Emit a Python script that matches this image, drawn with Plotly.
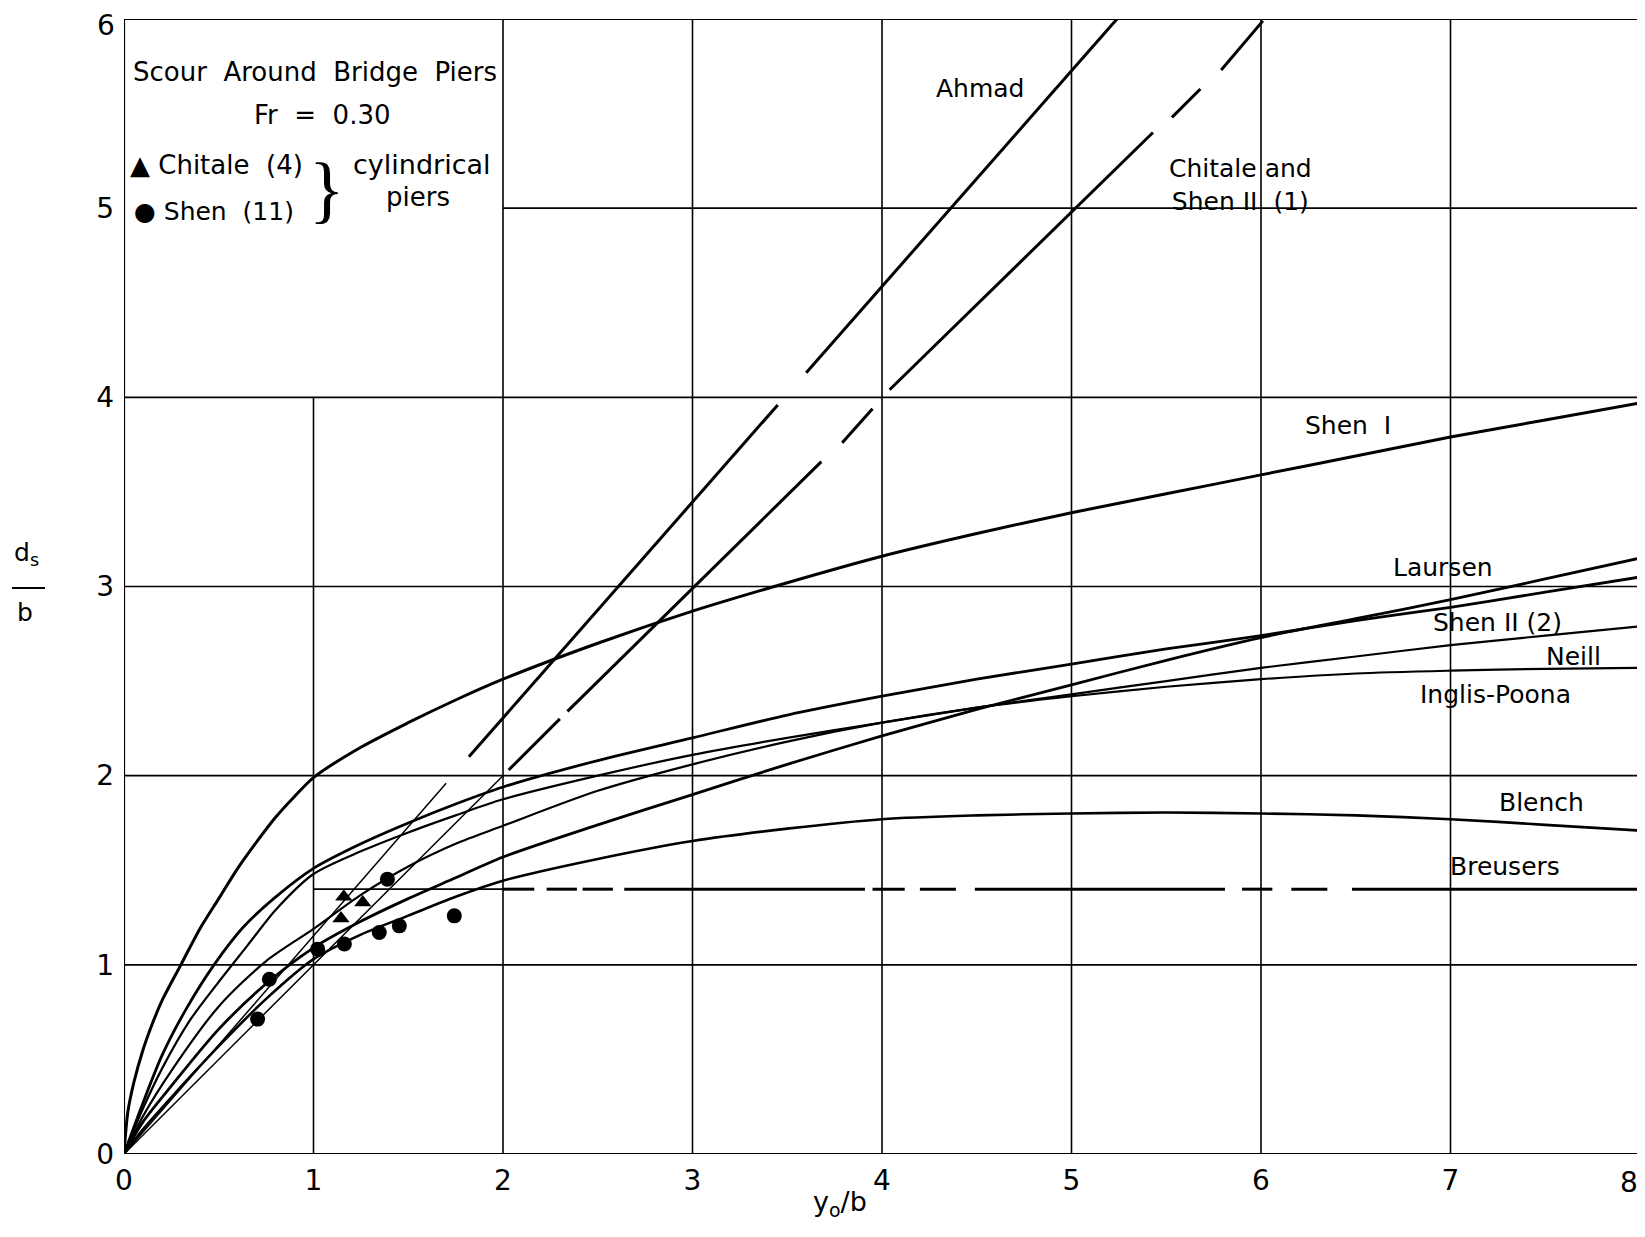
import plotly.graph_objects as go

# ---------------- data ----------------
x_ticks = [0, 1, 2, 3, 4, 5, 6, 7]
x_last_tick = 8
y_ticks = [0, 1, 2, 3, 4, 5]
y_last_tick = 6

shen1_x = [0, 0.02, 0.05, 0.1, 0.15, 0.2, 0.3, 0.4, 0.5, 0.6, 0.7, 0.8, 0.9, 1.0, 1.25, 1.5, 1.75, 2.0, 2.5, 3.0, 3.5, 4.0, 4.5, 5.0, 5.5, 6.0, 6.5, 7.0, 7.5, 8.0]
shen1_y = [0, 0.22, 0.37, 0.55, 0.69, 0.81, 1.0, 1.19, 1.35, 1.51, 1.65, 1.78, 1.89, 1.99, 2.15, 2.28, 2.40, 2.51, 2.70, 2.87, 3.02, 3.16, 3.28, 3.39, 3.49, 3.59, 3.69, 3.79, 3.88, 3.97]

shen2_x = [0, 0.1, 0.2, 0.33, 0.475, 0.63, 0.79, 1.0, 1.25, 1.5, 1.75, 2.0, 2.5, 3.0, 3.5, 4.0, 4.5, 5.0, 5.5, 6.0, 6.5, 7.0, 7.5, 8.0]
shen2_y = [0, 0.27, 0.52, 0.77, 1.0, 1.2, 1.35, 1.51, 1.64, 1.75, 1.85, 1.94, 2.08, 2.20, 2.32, 2.42, 2.51, 2.59, 2.67, 2.74, 2.82, 2.89, 2.97, 3.05]

neill_x = [0, 0.1, 0.2, 0.35, 0.5, 0.65, 0.8, 1.0, 1.25, 1.5, 1.75, 2.0, 2.5, 3.0, 3.5, 4.0, 4.5, 5.0, 5.5, 6.0, 6.5, 7.0, 7.5, 8.0]
neill_y = [0, 0.24, 0.45, 0.71, 0.91, 1.1, 1.29, 1.48, 1.60, 1.70, 1.79, 1.875, 2.0, 2.11, 2.20, 2.28, 2.36, 2.43, 2.50, 2.57, 2.63, 2.69, 2.74, 2.79]

inglis_x = [0, 0.1, 0.25, 0.5, 0.75, 1.0, 1.25, 1.5, 1.75, 2.0, 2.5, 3.0, 3.5, 4.0, 4.5, 5.0, 5.5, 6.0, 6.5, 7.0, 7.5, 8.0]
inglis_y = [0, 0.2, 0.44, 0.78, 1.02, 1.19, 1.37, 1.52, 1.64, 1.735, 1.92, 2.06, 2.18, 2.28, 2.36, 2.42, 2.47, 2.51, 2.54, 2.555, 2.565, 2.57]

laursen_x = [0, 0.1, 0.25, 0.5, 0.75, 1.0, 1.25, 1.5, 1.75, 2.0, 2.5, 3.0, 3.5, 4.0, 4.5, 5.0, 5.5, 6.0, 6.5, 7.0, 7.5, 8.0]
laursen_y = [0, 0.17, 0.36, 0.66, 0.9, 1.09, 1.23, 1.35, 1.46, 1.57, 1.74, 1.90, 2.06, 2.21, 2.35, 2.48, 2.61, 2.73, 2.83, 2.93, 3.04, 3.15]

blench_x = [0, 0.1, 0.25, 0.5, 0.75, 1.0, 1.25, 1.5, 1.75, 2.0, 2.5, 3.0, 3.5, 4.0, 4.5, 5.0, 5.5, 6.0, 6.5, 7.0, 7.5, 8.0]
blench_y = [0, 0.13, 0.3, 0.57, 0.82, 1.03, 1.16, 1.26, 1.36, 1.445, 1.56, 1.655, 1.72, 1.77, 1.79, 1.80, 1.805, 1.80, 1.79, 1.77, 1.74, 1.71]

# Breusers: constant 1.4, drawn in dashes (None = gap)
breusers_x = [2.0, 2.165, None, 2.23, 2.39, None, 2.42, 2.58, None, 2.64, 3.91, None, 3.95, 4.12, None,
              4.20, 4.39, None, 4.49, 5.81, None, 5.90, 6.06, None, 6.16, 6.35, None, 6.48, 8.0]
breusers_y = [1.4, 1.4, None, 1.4, 1.4, None, 1.4, 1.4, None, 1.4, 1.4, None, 1.4, 1.4, None,
              1.4, 1.4, None, 1.4, 1.4, None, 1.4, 1.4, None, 1.4, 1.4, None, 1.4, 1.4]

# Ahmad straight line (thin lower part + thick segments)
ahmad_ext_x = [0, 1.70]
ahmad_ext_y = [0, 1.96]
ahmad_x = [1.82, 3.45, None, 3.60, 5.24]
ahmad_y = [2.10, 3.96, None, 4.13, 6.0]

# Chitale and Shen II (1) straight line
chitale_ext_x = [0, 2.0]
chitale_ext_y = [0, 2.0]
chitale_x = [2.03, 2.30, None, 2.34, 3.68, None, 3.79, 3.95, None, 4.04, 5.43, None, 5.53, 5.68, None, 5.79, 6.01]
chitale_y = [2.03, 2.30, None, 2.34, 3.66, None, 3.76, 3.94, None, 4.04, 5.40, None, 5.48, 5.63, None, 5.73, 5.99]

# experimental points
chitale_pts_x = [1.16, 1.26, 1.145]
chitale_pts_y = [1.36, 1.33, 1.245]
shen_pts_x = [0.705, 0.767, 1.022, 1.163, 1.347, 1.453, 1.39, 1.743]
shen_pts_y = [0.713, 0.924, 1.083, 1.11, 1.171, 1.206, 1.453, 1.259]

# curve labels
label_text = ["Ahmad", "Chitale and<br>Shen II  (1)", "Shen  I", "Laursen", "Shen II (2)", "Neill",
              "Inglis-Poona", "Blench", "Breusers"]
label_x = [4.52, 5.89, 6.46, 6.96, 7.25, 7.65, 7.24, 7.48, 7.29]
label_y = [5.63, 5.12, 3.85, 3.10, 2.81, 2.63, 2.43, 1.86, 1.52]

# ---------------- figure ----------------
FONT = "DejaVu Sans"
# page body has an 8 px margin: plot area kept at page x 124..1640, y 19..1154
fig = go.Figure()

def curve(x, y, w):
    fig.add_trace(go.Scatter(x=x, y=y, mode="lines", showlegend=False,
                             line=dict(color="black", width=w, shape="spline", smoothing=0.8),
                             hoverinfo="skip"))

curve(shen1_x, shen1_y, 3.0)
curve(shen2_x, shen2_y, 2.8)
curve(neill_x, neill_y, 2.2)
curve(inglis_x, inglis_y, 2.2)
curve(laursen_x, laursen_y, 2.8)
curve(blench_x, blench_y, 2.6)

def straight(x, y, w):
    fig.add_trace(go.Scatter(x=x, y=y, mode="lines", showlegend=False,
                             line=dict(color="black", width=w), connectgaps=False, hoverinfo="skip"))

straight(breusers_x, breusers_y, 3.0)
straight(ahmad_ext_x, ahmad_ext_y, 1.5)
straight(ahmad_x, ahmad_y, 3.0)
straight(chitale_ext_x, chitale_ext_y, 1.5)
straight(chitale_x, chitale_y, 3.0)

fig.add_trace(go.Scatter(x=chitale_pts_x, y=chitale_pts_y, mode="markers", showlegend=False,
                         marker=dict(symbol="triangle-up", size=15, color="black")))
fig.add_trace(go.Scatter(x=shen_pts_x, y=shen_pts_y, mode="markers", showlegend=False,
                         marker=dict(symbol="circle", size=15, color="black")))

# irregular grid of the original sheet
grid = [(1, 0, 1, 4), (2, 0, 2, 6), (3, 0, 3, 6), (4, 0, 4, 6), (5, 0, 5, 6), (6, 0, 6, 6), (7, 0, 7, 6),
        (0, 1, 8, 1), (0, 2, 8, 2), (0, 3, 8, 3), (0, 4, 8, 4), (2, 5, 8, 5), (1, 1.4, 2.05, 1.4)]
frame = [(0, 0, 0, 6), (8, 0, 8, 6), (0, 0, 8, 0), (0, 6, 8, 6)]
shapes = []
for (x0, y0, x1, y1) in grid:
    shapes.append(dict(type="line", x0=x0, y0=y0, x1=x1, y1=y1, xref="x", yref="y",
                       line=dict(color="black", width=1.6), layer="below"))
for (x0, y0, x1, y1) in frame:
    shapes.append(dict(type="line", x0=x0, y0=y0, x1=x1, y1=y1, xref="x", yref="y",
                       line=dict(color="black", width=2.2), layer="below"))

def px(page_x):
    return (page_x - 124) / 1516

def py(page_y):
    return (1154 - page_y) / 1135

# fraction bar of the y title
shapes.append(dict(type="line", xref="paper", yref="paper", x0=px(12), x1=px(45),
                   y0=py(588), y1=py(588), line=dict(color="black", width=2)))

annotations = []
for t, x, y in zip(label_text, label_x, label_y):
    annotations.append(dict(x=x, y=y, text=t, showarrow=False, xref="x", yref="y",
                            xanchor="center", yanchor="middle",
                            font=dict(family=FONT, size=25, color="black")))

def ann(x, y, t, size=25, xanchor="center", family=FONT):
    annotations.append(dict(x=x, y=y, text=t, showarrow=False, xref="x", yref="y",
                            xanchor=xanchor, yanchor="middle",
                            font=dict(family=family, size=size, color="black")))

# legend box texts
ann(1.01, 5.72, "Scour  Around  Bridge  Piers", size=26)
ann(1.05, 5.49, "Fr  =  0.30", size=26)
ann(0.02, 5.23, "▲ Chitale  (4)", size=26, xanchor="left")
ann(0.04, 4.98, "● Shen  (11)", xanchor="left")
ann(1.07, 5.10, "}", size=74, family="Liberation Serif")
ann(1.57, 5.23, "cylindrical", size=27)
ann(1.55, 5.06, "piers", size=26)

def paper_text(x, y, t, size):
    annotations.append(dict(xref="paper", yref="paper", x=x, y=y, text=t, showarrow=False,
                            xanchor="center", yanchor="middle",
                            font=dict(family=FONT, size=size, color="black")))

# edge tick labels kept inside the figure
annotations.append(dict(xref="x", yref="paper", x=x_last_tick, y=py(1182), xanchor="right", yanchor="middle",
                        text=str(x_last_tick), showarrow=False,
                        font=dict(family=FONT, size=28, color="black")))
annotations.append(dict(xref="paper", yref="paper", x=px(106), y=py(25), xanchor="center", yanchor="middle",
                        text=str(y_last_tick), showarrow=False,
                        font=dict(family=FONT, size=28, color="black")))

# axis titles
paper_text(px(26), py(554), "d<sub>s</sub>", 25)
paper_text(px(25), py(612), "b", 25)
paper_text(px(840), py(1204), "y<sub>o</sub>/b", 27)

fig.update_layout(
    width=1637, height=1221,
    margin=dict(l=116, r=5, t=11, b=75),
    paper_bgcolor="white", plot_bgcolor="white",
    shapes=shapes, annotations=annotations,
    xaxis=dict(range=[0, 8], tickvals=x_ticks, ticktext=[str(v) for v in x_ticks],
               showgrid=False, zeroline=False, showline=False, ticks="",
               tickfont=dict(family=FONT, size=28, color="black"), ticklabelstandoff=7),
    yaxis=dict(range=[0, 6], tickvals=y_ticks, ticktext=[str(v) for v in y_ticks],
               showgrid=False, zeroline=False, showline=False, ticks="",
               tickfont=dict(family=FONT, size=28, color="black"), ticklabelstandoff=9),
)

fig.write_html("out.html")
